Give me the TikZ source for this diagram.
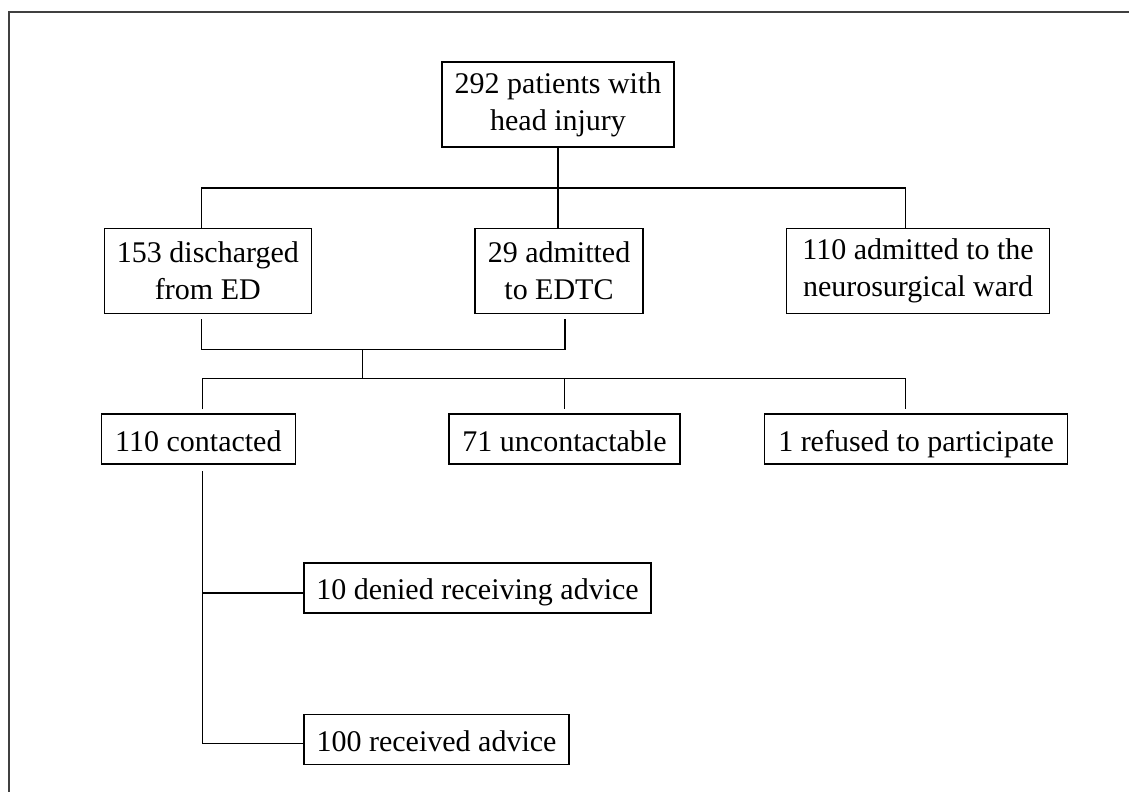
\documentclass[tikz,border=0pt]{standalone}
\usepackage{fontspec}
\setmainfont{Liberation Serif}
\usetikzlibrary{positioning, calc}

\begin{document}
\begin{tikzpicture}[
  box/.style={draw=black, line width=0.8pt, align=center, font=\fontsize{15}{18.5}\selectfont, inner sep=0pt},
  tall/.style={box, minimum height=42.5pt},
  flat/.style={box, minimum height=25pt, text height=13pt, text depth=1pt},
  link/.style={line width=0.7pt, draw=black},
  frame/.style={line width=1pt, draw=black!75}
]
  \useasboundingbox (0,0) rectangle (564.5pt,-396pt);
  \draw[frame] (564.5pt,-6pt) -- (4.5pt,-6pt) -- (4.5pt,-396pt);

  % Top
  \node[tall, minimum width=116pt] (all) at (279pt,-52.25pt) {292 patients with\\head injury};

  % First split
  \node[tall, minimum width=84pt, below=40pt of all, xshift=0.5pt] (edtc) {29 admitted\\to EDTC};
  \node[tall, minimum width=103.5pt, left=81pt of edtc] (disch) {153 discharged\\from ED};
  \node[tall, minimum width=131.5pt, right=71pt of edtc] (neuro) {110 admitted to the\\neurosurgical ward};
  \coordinate (bus1) at ($(all.south)+(0,-20pt)$);
  \draw[link] (all.south) -- (edtc.north -| all.south);
  \draw[link] ($(disch.north)+(-3.25pt,0)$) |- (bus1) -| ($(neuro.north)+(-6.25pt,0)$);

  % Second split
  \node[flat, minimum width=97pt, below=49.5pt of disch, xshift=-4.75pt] (cont) {110 contacted};
  \node[flat, minimum width=115.5pt, below=49.5pt of edtc, xshift=2.75pt] (uncont) {71 uncontactable};
  \node[flat, minimum width=151.5pt, below=49.5pt of neuro, xshift=-1pt] (refus) {1 refused to participate};
  \coordinate (join) at ($(disch.south)+(77.25pt,-17.5pt)$);
  \coordinate (b2l) at ($(cont.north)+(2pt,17.5pt)$);
  \draw[link] ($(disch.south)+(-3.25pt,-2.5pt)$) |- (join) -| ($(edtc.south)+(3pt,-2.5pt)$);
  \draw[link] (join) -- (join |- b2l);
  \draw[link] ($(cont.north)+(2pt,2pt)$) |- (b2l) -| ($(refus.north)+(-5.25pt,2pt)$);
  \draw[link] (b2l -| uncont.north) -- ($(uncont.north)+(0,2pt)$);

  % Contacted
  \node[flat, minimum width=173.5pt, below right=48.5pt and 3.5pt of cont] (deny) {10 denied receiving advice};
  \node[flat, minimum width=132.5pt, below=50pt of deny.south west, anchor=north west] (recv) {100 received advice};
  \coordinate (dl) at ($(deny.west)+(0,-2.5pt)$);
  \draw[link] ($(cont.south)+(2pt,-3pt)$) |- ($(recv.west)+(0,-2pt)$);
  \draw[link] (dl) -- (dl -| b2l);

\end{tikzpicture}
\end{document}
